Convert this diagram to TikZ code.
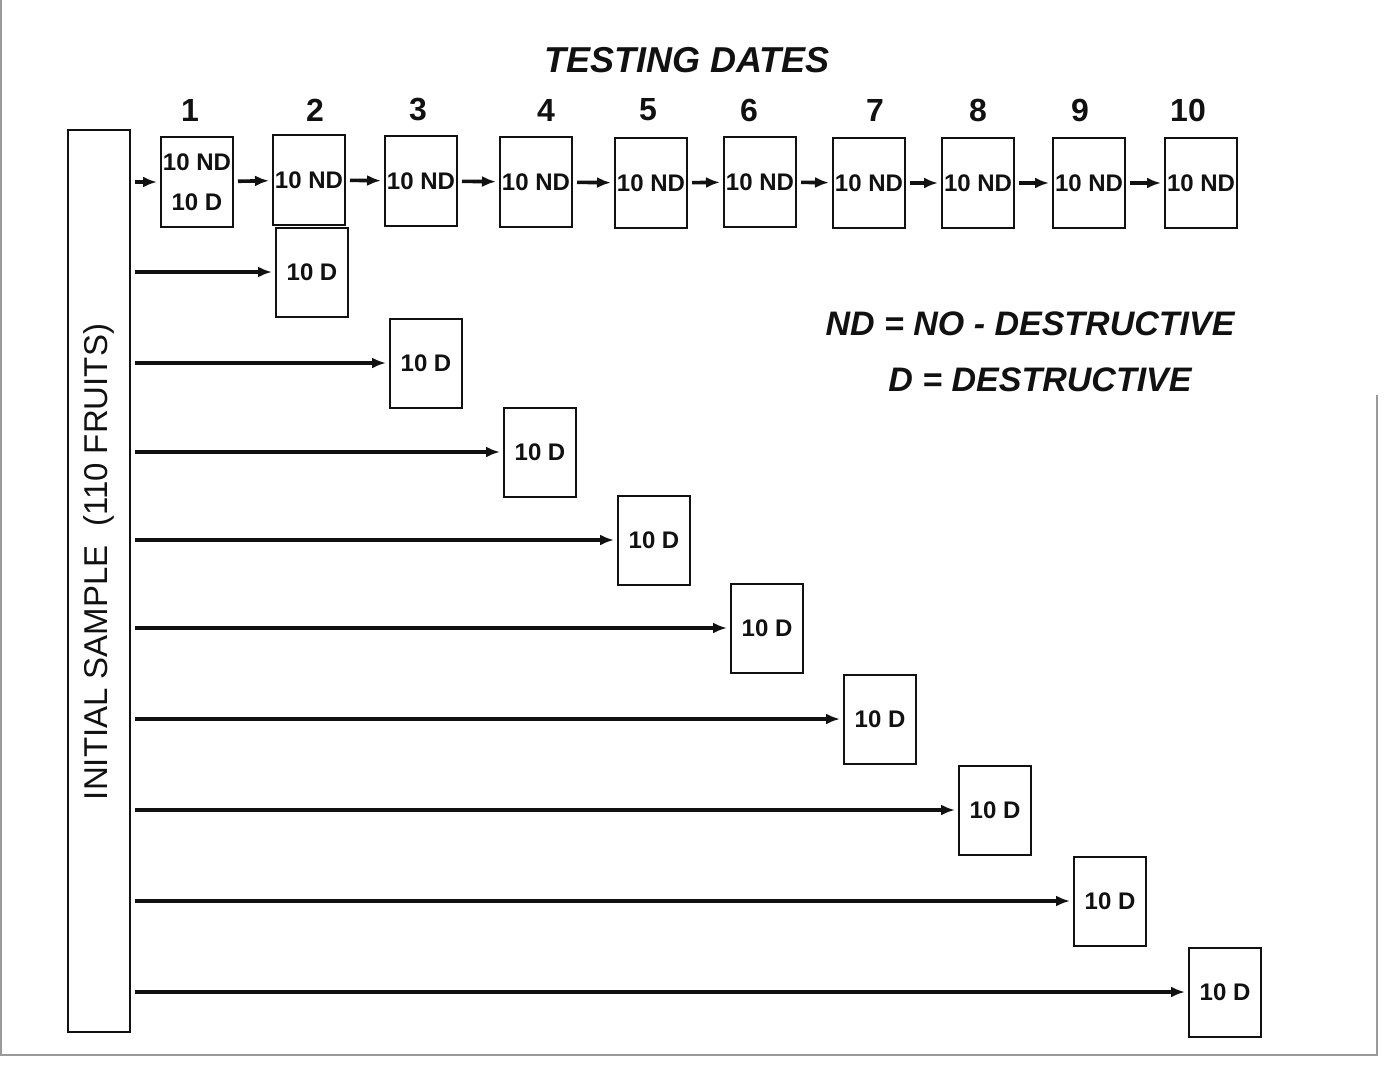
\documentclass[tikz,border=0pt]{standalone}
\usepackage{fontspec}
\setmainfont{Liberation Sans}
\usepackage{xcolor}
\usepackage{tikz}
\usetikzlibrary{arrows.meta,positioning}
\definecolor{ink}{HTML}{111111}
\definecolor{scan}{HTML}{9A9A9A}
\tikzset{
  >={Latex[length=7pt,width=5.5pt]},
  every node/.style={text=ink},
  sbox/.style={draw=ink,line width=1pt,minimum width=36pt,minimum height=44.5pt,inner sep=0pt,align=center,
    font=\fontsize{12}{20}\selectfont\bfseries},
  initbox/.style={draw=ink,line width=1pt,minimum width=31pt,minimum height=451pt,inner sep=0pt,
    font=\fontsize{16.5}{18}\selectfont},
  datelbl/.style={font=\fontsize{16}{18}\selectfont\bfseries},
  title/.style={font=\fontsize{18}{20}\selectfont\bfseries\itshape},
  legend/.style={font=\fontsize{17}{20}\selectfont\bfseries\itshape},
  flow/.style={->,line width=1.8pt,draw=ink,shorten <=2pt,shorten >=1.5pt},
  frame/.style={draw=scan,line width=0.8pt}
}
\begin{document}
\begin{tikzpicture}[x=0.5pt,y=-0.5pt]
  \useasboundingbox (0,0) rectangle (1386,1070);
  % page frame (scan edges)
  \draw[frame] (1,0) -- (1,1055) -- (1377,1055) -- (1377,395);

  \node[title] (ttl) at (687,60) {TESTING DATES};
  \node[initbox] (init) at (99,581) {\rotatebox{90}{\hspace*{19pt}INITIAL SAMPLE\ \ (110 FRUITS)}};

  % testing dates
  \node[datelbl] (t1) at (190,110) {1};
  \node[datelbl] (t2) at (315,110) {2};
  \node[datelbl] (t3) at (418,110) {3};
  \node[datelbl] (t4) at (546,110) {4};
  \node[datelbl] (t5) at (648,110) {5};
  \node[datelbl] (t6) at (749,110) {6};
  \node[datelbl] (t7) at (875,110) {7};
  \node[datelbl] (t8) at (978,110) {8};
  \node[datelbl] (t9) at (1080,110) {9};
  \node[datelbl] (t10) at (1188,110) {10};

  % non-destructive chain
  \node[sbox] (nd1) at (197,182) {10 ND\\10 D};
  \node[sbox] (nd2) at (309,180) {10 ND};
  \node[sbox] (nd3) at (421,181) {10 ND};
  \node[sbox] (nd4) at (536,182) {10 ND};
  \node[sbox] (nd5) at (651,183) {10 ND};
  \node[sbox] (nd6) at (760,182) {10 ND};
  \node[sbox] (nd7) at (869,183) {10 ND};
  \node[sbox] (nd8) at (978,183) {10 ND};
  \node[sbox] (nd9) at (1089,183) {10 ND};
  \node[sbox] (nd10) at (1201,183) {10 ND};

  % destructive samples
  \node[sbox] (d2) at (312,272) {10 D};
  \node[sbox] (d3) at (426,363) {10 D};
  \node[sbox] (d4) at (540,452) {10 D};
  \node[sbox] (d5) at (654,540) {10 D};
  \node[sbox] (d6) at (767,628) {10 D};
  \node[sbox] (d7) at (880,719) {10 D};
  \node[sbox] (d8) at (995,810) {10 D};
  \node[sbox] (d9) at (1110,901) {10 D};
  \node[sbox] (d10) at (1225,992) {10 D};

  \node[legend] (lgnd) at (1030,324) {ND = NO - DESTRUCTIVE};
  \node[legend] (lgd) at (1040,380) {D = DESTRUCTIVE};

  \draw[flow] (init.east |- nd1.west) -- (nd1.west);
  \draw[flow] (nd1) -- (nd2); \draw[flow] (nd2) -- (nd3); \draw[flow] (nd3) -- (nd4);
  \draw[flow] (nd4) -- (nd5); \draw[flow] (nd5) -- (nd6); \draw[flow] (nd6) -- (nd7);
  \draw[flow] (nd7) -- (nd8); \draw[flow] (nd8) -- (nd9); \draw[flow] (nd9) -- (nd10);

  \draw[flow] (init.east |- d2.west) -- (d2.west);
  \draw[flow] (init.east |- d3.west) -- (d3.west);
  \draw[flow] (init.east |- d4.west) -- (d4.west);
  \draw[flow] (init.east |- d5.west) -- (d5.west);
  \draw[flow] (init.east |- d6.west) -- (d6.west);
  \draw[flow] (init.east |- d7.west) -- (d7.west);
  \draw[flow] (init.east |- d8.west) -- (d8.west);
  \draw[flow] (init.east |- d9.west) -- (d9.west);
  \draw[flow] (init.east |- d10.west) -- (d10.west);
\end{tikzpicture}
\end{document}
